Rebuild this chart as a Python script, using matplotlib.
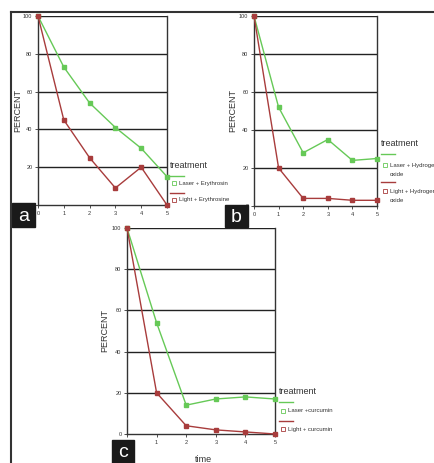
import matplotlib
matplotlib.use("Agg")
import matplotlib.pyplot as plt
from matplotlib.lines import Line2D
from matplotlib.patches import Rectangle

W, H = 435, 463

time = [0, 1, 2, 3, 4, 5]
yticks = [0, 20, 40, 60, 80, 100]

laser_ery = [100, 73, 54, 41, 30, 15]
light_ery = [100, 45, 25, 9, 20, 0]
laser_h2o2 = [100, 52, 28, 35, 24, 25]
light_h2o2 = [100, 20, 4, 4, 3, 3]
laser_cur = [100, 54, 14, 17, 18, 17]
light_cur = [100, 20, 4, 2, 1, 0]

GREEN = '#66c957'
RED = '#a83c3c'
FONT = ['Liberation Sans Narrow', 'Liberation Sans', 'DejaVu Sans']
plt.rcParams['font.family'] = FONT

fig = plt.figure(figsize=(W / 100, H / 100), dpi=100)


def px_axes(l, t, r, b):
    return fig.add_axes([l / W, 1 - b / H, (r - l) / W, (b - t) / H])


def fx(x):
    return x / W


def fy(y):
    return 1 - y / H


def panel(box, g, r, ylab_x):
    l, t, rr, b = box
    ax = px_axes(l, t, rr, b)
    ax.set_xlim(0, 5)
    ax.set_ylim(0, 100)
    for y in yticks[1:]:
        ax.axhline(y, color='#222222', lw=1.0, zorder=1)
    ax.plot(time, g, color=GREEN, lw=1.0, marker='s', ms=2.2,
            mfc=GREEN, mec=GREEN, zorder=3, clip_on=False)
    ax.plot(time, r, color=RED, lw=1.0, marker='s', ms=2.2,
            mfc=RED, mec=RED, zorder=3, clip_on=False)
    ax.set_xticks(time)
    ax.set_yticks(yticks)
    ax.tick_params(axis='both', labelsize=4, length=2.5, width=0.6,
                   pad=1.5, colors='#333333')
    for s in ['left', 'bottom', 'right']:
        ax.spines[s].set_linewidth(1.0)
        ax.spines[s].set_color('#333333')
    ax.spines['top'].set_visible(False)
    ax.set_ylabel('PERCENT', fontsize=6.5, color='#333333', va='center')
    ax.yaxis.set_label_coords((ylab_x - l) / (rr - l), 0.5)
    ax.patch.set_alpha(0)
    return ax


def legend(x, y_title, lines):
    fig.text(fx(x), fy(y_title), 'treatment', fontsize=6.5, color='#333333',
             va='center', ha='left')
    for color, ly, my, texts in lines:
        fig.add_artist(Line2D([fx(x), fx(x + 14)], [fy(ly), fy(ly)],
                              color=color, lw=1.0))
        fig.add_artist(Line2D([fx(x + 4)], [fy(my)], marker='s', ms=2.2,
                              mfc='none', mec=color, mew=0.6, lw=0))
        for i, txt in enumerate(texts):
            fig.text(fx(x + 9), fy(my + i * 9.5), txt, fontsize=4.3,
                     color='#333333', va='center', ha='left')


ax_a = panel((38, 16, 167, 205), laser_ery, light_ery, 18)
ax_b = panel((254, 16, 377, 206), laser_h2o2, light_h2o2, 233)
ax_c = panel((127, 228, 275, 434), laser_cur, light_cur, 105)
ax_c.set_xlabel('time', fontsize=6.5, color='#333333')
ax_c.xaxis.set_label_coords((203 - 127) / 148, -(455 - 434) / 206)

legend(170, 165, [(GREEN, 176, 183, ['Laser + Erythrosin']),
                  (RED, 193, 200, ['Light + Erythrosine'])])
legend(381, 144, [(GREEN, 154, 165, ['Laser + Hydrogen per', 'oxide']),
                  (RED, 182, 191, ['Light + Hydrogen per', 'oxide'])])
legend(279, 392, [(GREEN, 402, 411, ['Laser +curcumin']),
                  (RED, 421, 429, ['Light + curcumin'])])

# outer frame
fig.add_artist(Line2D([fx(11), fx(435)], [fy(12), fy(12)], color='#333333', lw=1.5))
fig.add_artist(Line2D([fx(11), fx(11)], [fy(12), fy(463)], color='#333333', lw=1.5))

# panel labels
for lab, (l, t, r, b) in [('a', (12, 203, 35, 227)),
                          ('b', (225, 205, 248, 227)),
                          ('c', (112, 440, 134, 463))]:
    fig.add_artist(Rectangle((fx(l), fy(b)), fx(r - l), (b - t) / H,
                             transform=fig.transFigure, color='#1a1a1a'))
    fig.text(fx((l + r) / 2), fy((t + b) / 2 + 1), lab, color='white',
             fontsize=14, ha='center', va='center',
             family=['Liberation Sans', 'DejaVu Sans'])

fig.savefig('out.png', dpi=100)
